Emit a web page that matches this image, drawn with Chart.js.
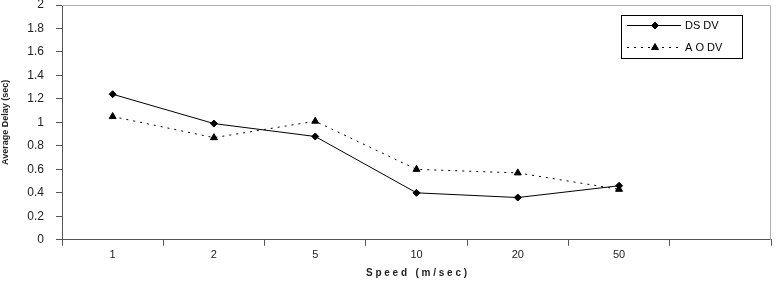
<!DOCTYPE html>
<html>
<head>
<meta charset="utf-8">
<script src="https://cdn.jsdelivr.net/npm/chart.js@4/dist/chart.umd.min.js"></script>
<style>
  html, body { margin: 0; padding: 0; background: #fff; }
  #wrap { width: 776px; height: 282px; }
</style>
</head>
<body>
<div id="wrap"><canvas id="c" width="776" height="282"></canvas></div>
<script>
const speeds = ['1', '2', '5', '10', '20', '50', ''];
const dsdv   = [1.24, 0.99, 0.88, 0.40, 0.36, 0.46, null];
const aodv   = [1.05, 0.87, 1.01, 0.60, 0.57, 0.43, null];
const yTicks = [0, 0.2, 0.4, 0.6, 0.8, 1, 1.2, 1.4, 1.6, 1.8, 2];

const FONT = '"Liberation Sans", Arial, sans-serif';

// plot frame + legend box, Excel style
const framePlugin = {
  id: 'frame',
  beforeDatasetsDraw(chart) {
    const { ctx, chartArea: a } = chart;
    ctx.save();
    ctx.strokeStyle = '#b0b0b0';
    ctx.lineWidth = 1;
    ctx.beginPath();
    ctx.moveTo(a.left, a.top + 0.5);
    ctx.lineTo(a.right - 0.5, a.top + 0.5);
    ctx.lineTo(a.right - 0.5, a.bottom);
    ctx.stroke();
    ctx.restore();
  },
  afterDraw(chart) {
    const { ctx } = chart;
    const x = 621, y = 15, w = 121, h = 43;
    ctx.save();
    ctx.fillStyle = '#fff';
    ctx.fillRect(x, y, w, h);
    ctx.strokeStyle = '#000';
    ctx.lineWidth = 1;
    ctx.strokeRect(x + 0.5, y + 0.5, w, h);
    chart.data.datasets.forEach((ds, i) => {
      const ly = y + 10 + i * 22;
      ctx.strokeStyle = '#000';
      ctx.fillStyle = '#000';
      ctx.setLineDash(ds.borderDash || []);
      ctx.beginPath();
      ctx.moveTo(x + 6, ly + 0.5);
      ctx.lineTo(x + 60, ly + 0.5);
      ctx.stroke();
      ctx.setLineDash([]);
      Chart.helpers.drawPoint(ctx, { pointStyle: ds.pointStyle, radius: ds.pointRadius, rotation: 0, borderWidth: 1 }, x + 34, ly + 0.5);
      ctx.fillStyle = '#000';
      ctx.font = '11px ' + FONT;
      ctx.textBaseline = 'middle';
      ctx.fillText(ds.label, x + 64, ly + 1);
    });
    ctx.restore();
  }
};

new Chart(document.getElementById('c'), {
  type: 'line',
  data: {
    labels: speeds,
    datasets: [
      {
        label: 'DS DV',
        data: dsdv,
        borderColor: '#000',
        backgroundColor: '#000',
        borderWidth: 1,
        pointStyle: 'rectRot',
        pointRadius: 3.5,
        tension: 0,
      },
      {
        label: 'A O DV',
        data: aodv,
        borderColor: '#000',
        backgroundColor: '#000',
        borderWidth: 1,
        borderDash: [2, 5],
        pointStyle: 'triangle',
        pointRadius: 4,
        tension: 0,
      },
    ],
  },
  options: {
    responsive: false,
    animation: false,
    layout: { padding: { top: 5, right: 4, left: 0, bottom: 0 } },
    plugins: {
      legend: { display: false },
      tooltip: { enabled: false },
    },
    scales: {
      x: {
        offset: true,
        grid: { offset: true, drawOnChartArea: false, color: '#555', tickLength: 6 },
        border: { color: '#555', width: 1 },
        ticks: { color: '#222', font: { family: FONT, size: 11 }, padding: 3, maxRotation: 0 },
        title: {
          display: true,
          text: 'S p e e d   ( m / s e c )',
          color: '#222',
          font: { family: FONT, size: 10, weight: 'bold' },
          padding: { top: 2, bottom: 3 },
        },
      },
      y: {
        min: 0,
        max: 2,
        afterBuildTicks: axis => { axis.ticks = yTicks.map(v => ({ value: v })); },
        afterFit: axis => { axis.width = 62; axis.paddingTop = 0; axis.paddingBottom = 0; },
        grid: { drawOnChartArea: false, color: '#555', tickLength: 6 },
        border: { color: '#555', width: 1 },
        ticks: {
          color: '#222',
          font: { family: FONT, size: 12 },
          padding: 12,
          callback: v => String(v),
        },
        title: {
          display: true,
          text: 'Average Delay (sec)',
          color: '#222',
          font: { family: FONT, size: 9, weight: 'bold' },
          padding: { top: 0, bottom: 0 },
        },
      },
    },
  },
  plugins: [framePlugin],
});
</script>
</body>
</html>
